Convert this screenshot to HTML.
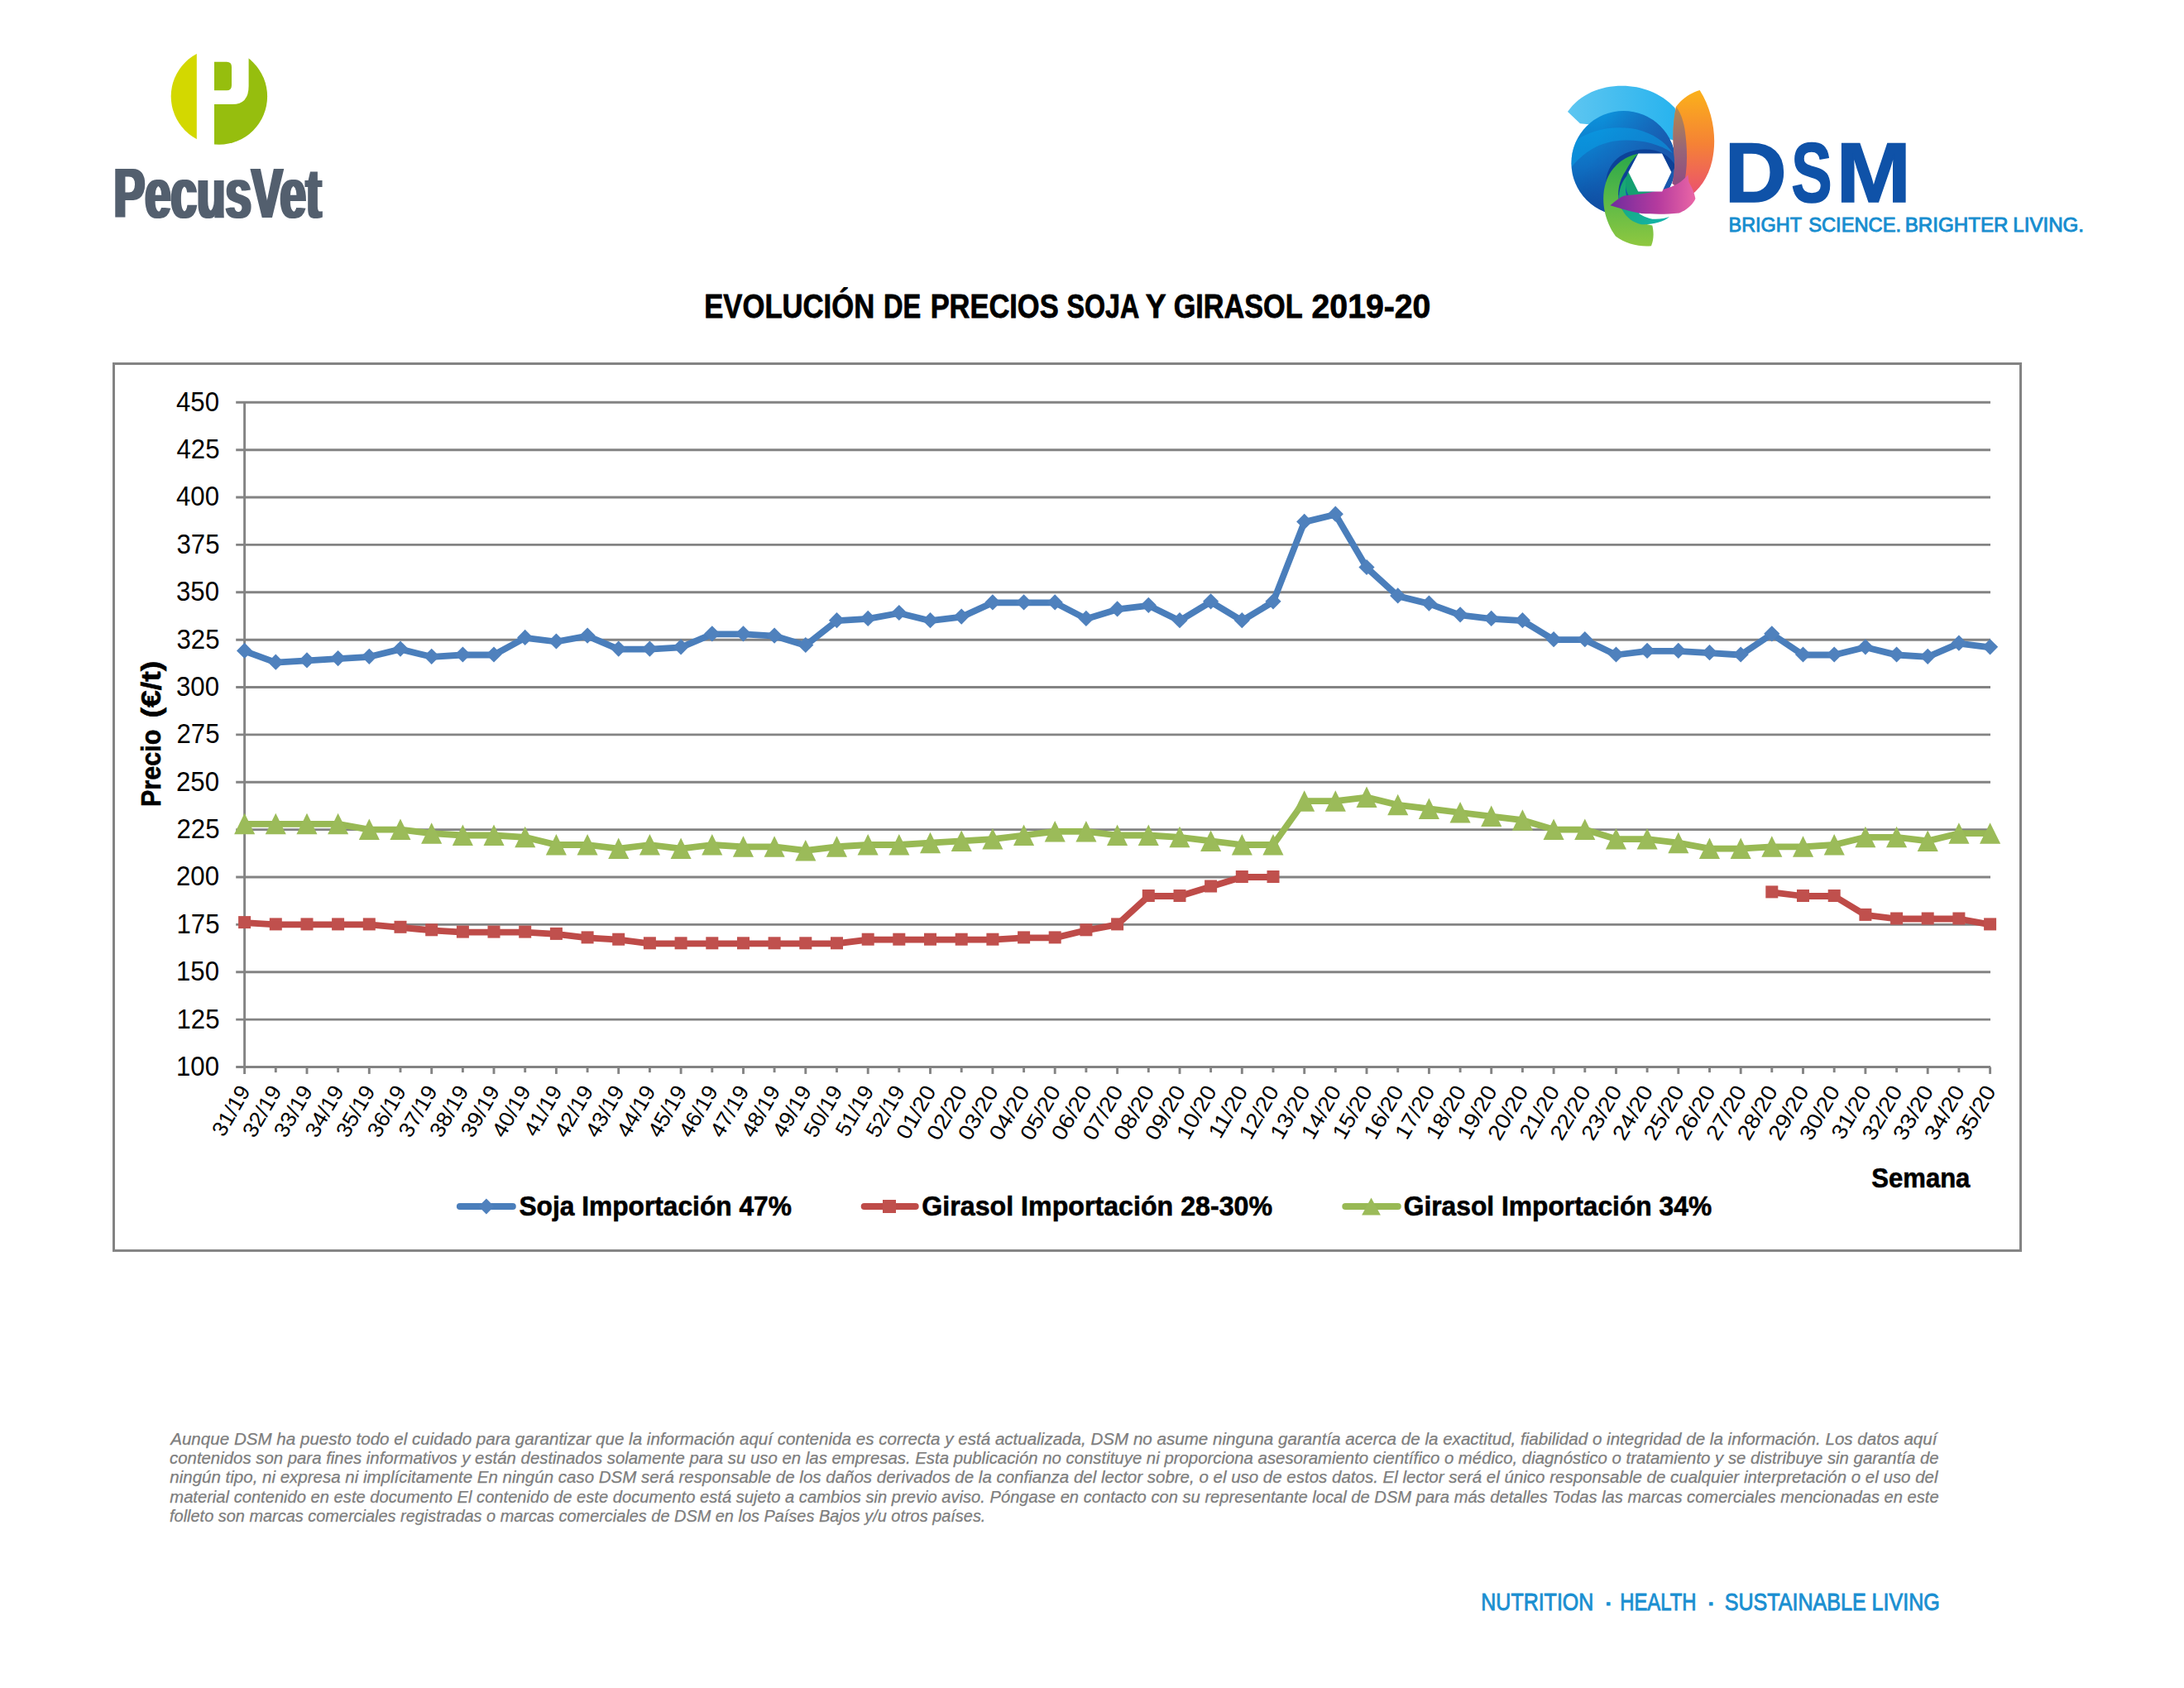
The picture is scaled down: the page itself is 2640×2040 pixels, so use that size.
<!DOCTYPE html>
<html lang="es"><head><meta charset="utf-8"><title>Evolución de precios soja y girasol 2019-20</title>
<style>
html,body{margin:0;padding:0;background:#fff;}
body{width:2640px;height:2040px;overflow:hidden;font-family:"Liberation Sans",sans-serif;}
svg{display:block;position:absolute;left:0;top:0;}
text{white-space:pre;}
</style></head><body>
<svg width="2640" height="2040" viewBox="0 0 2640 2040">
<rect width="2640" height="2040" fill="#fff"/>
<g id="pecus">
<defs><clipPath id="pc"><circle cx="264.9" cy="116.6" r="58.2"/></clipPath>
<filter id="bx" x="-5%" y="-5%" width="110%" height="110%"><feMorphology operator="dilate" radius="1.6 0"/></filter></defs>
<g clip-path="url(#pc)">
<rect x="200" y="50" width="37.8" height="140" fill="#d3d800"/>
<path d="M259,50 H330 V190 H259 V126 H281 Q300.6,126 300.6,104 V50 Z" fill="#96be0e"/>
<path d="M259,74.8 H274 Q280,74.8 280,81 V103 Q280,109.3 274,109.3 H259 Z" fill="#96be0e"/>
</g>
<text x="137.57" y="263.00" font-size="85.4" textLength="251.10" lengthAdjust="spacingAndGlyphs" font-weight="bold" fill="#525e6e" filter="url(#bx)" font-family="Liberation Sans, sans-serif">PecusVet</text>
</g>
<g id="dsm">
<defs>
<linearGradient id="gLB" x1="0" y1="0" x2="1" y2="0"><stop offset="0" stop-color="#5ec6f1"/><stop offset="1" stop-color="#27b3ee"/></linearGradient>
<linearGradient id="gDisc" x1="0.3" y1="0" x2="0.45" y2="1"><stop offset="0" stop-color="#0c93dc"/><stop offset="0.5" stop-color="#0f6fc2"/><stop offset="1" stop-color="#0b3f94"/></linearGradient>
<linearGradient id="gDiscR" x1="0.35" y1="0" x2="1" y2="0.25"><stop offset="0" stop-color="#1a58ad" stop-opacity="0"/><stop offset="1" stop-color="#1a58ad" stop-opacity="0.95"/></linearGradient>
<clipPath id="cDisc"><circle cx="82.50" cy="107.13" r="63.08"/></clipPath>
<linearGradient id="gOr" x1="0" y1="0" x2="0" y2="1"><stop offset="0" stop-color="#fbb11a"/><stop offset="0.5" stop-color="#f58235"/><stop offset="1" stop-color="#ea4f72"/></linearGradient>
<linearGradient id="gGr" x1="0" y1="0" x2="0" y2="1"><stop offset="0" stop-color="#2aa84a"/><stop offset="0.5" stop-color="#5bb947"/><stop offset="1" stop-color="#8fc840"/></linearGradient>
<linearGradient id="gOv" x1="0" y1="0" x2="0" y2="1"><stop offset="0" stop-color="#8a7a6a"/><stop offset="0.5" stop-color="#5a55a0"/><stop offset="1" stop-color="#4a3f95"/></linearGradient>
<linearGradient id="gTe" x1="0" y1="0" x2="1" y2="1"><stop offset="0" stop-color="#1aa567"/><stop offset="1" stop-color="#12b5b0"/></linearGradient>
<linearGradient id="gMa" x1="0" y1="0" x2="1" y2="0"><stop offset="0" stop-color="#6f2c9e"/><stop offset="0.55" stop-color="#b43a9e"/><stop offset="1" stop-color="#ea66a6"/></linearGradient>
</defs>
<g transform="translate(1880,90)">
<path d="M14.99,44.96 C29.98,23.46 54.74,13.68 80.80,13.68 C104.26,13.68 127.72,22.16 144.66,40.40 C147.92,52.13 148.57,65.16 147.27,80.80 L91.23,65.16 L29.98,59.30 Z" fill="url(#gLB)" />
<circle cx="82.50" cy="107.13" r="63.08" fill="url(#gDisc)"/>
<g clip-path="url(#cDisc)">
<circle cx="82.50" cy="107.13" r="63.08" fill="url(#gDiscR)"/>
<path d="M19.55,83.41 C43.01,65.16 72.98,61.25 99.05,66.47 C117.29,71.03 132.93,80.80 142.06,95.14 C125.11,83.41 104.26,78.85 83.41,79.50 C58.65,80.15 37.79,89.93 19.55,112.08 Z" fill="#0a9ee6" opacity="0.55"/>
<path d="M61.25,130.33 C62.56,106.87 80.80,91.23 106.87,90.58 C123.81,89.93 138.15,97.09 145.97,111.43 L140.10,117.95 L129.02,95.79 L100.35,95.79 L88.62,117.95 L78.20,147.27 Z" fill="#0a3c92" opacity="0.85"/>
</g>
<path d="M174.64,18.90 C162.91,22.16 152.48,29.98 145.97,39.10 C142.71,54.74 141.40,72.98 143.10,91.23 C144.66,104.26 144.66,117.29 141.40,131.63 L160.30,148.57 C173.34,140.75 185.06,125.11 189.63,104.26 C195.49,78.20 191.58,45.61 174.64,18.90 Z" fill="url(#gOr)" />
<path d="M145.97,39.10 C142.71,54.74 141.40,72.98 143.10,91.23 C144.66,104.26 144.66,117.29 141.40,131.63 L153.79,140.10 C160.30,117.29 160.30,91.23 156.39,65.16 C154.44,54.74 151.18,45.61 145.97,39.10 Z" fill="url(#gOv)" opacity="0.6"/>
<path d="M100.35,95.79 C83.41,99.05 67.77,110.78 61.25,130.33 C54.74,149.88 58.65,175.94 72.98,195.49 C84.71,204.61 101.66,208.52 115.99,207.22 C119.25,199.40 119.25,190.28 117.29,182.46 C101.66,179.85 88.62,173.34 80.80,162.91 C72.98,149.88 75.59,130.33 84.71,117.29 C88.62,109.47 93.84,101.66 100.35,95.79 Z" fill="url(#gGr)" />
<path d="M91.23,117.95 C83.41,130.33 83.41,143.36 88.62,153.79 C93.84,164.21 104.26,172.03 117.29,174.64 C125.11,175.29 132.93,173.99 138.15,172.03 C130.33,178.55 117.29,181.81 104.26,181.15 C91.23,178.55 82.11,169.43 78.20,156.39 C74.94,142.06 79.50,127.72 91.23,117.95 Z" fill="url(#gTe)" />
<path d="M88.62,117.29 L100.35,141.40 L129.02,141.40 L130.33,145.97 L91.23,149.88 C83.41,140.75 83.41,127.72 88.62,117.29 Z" fill="#14a070" />
<path d="M66.47,158.35 C72.98,152.48 78.20,148.57 83.41,146.62 C104.26,144.66 123.81,142.06 140.75,135.54 C149.88,131.63 156.39,126.42 160.30,121.20 L161.61,130.33 C165.52,136.84 168.12,143.36 169.43,149.88 C166.82,156.39 160.30,162.91 149.88,167.47 C132.93,169.43 117.29,168.77 104.26,168.12 C91.23,165.52 78.20,162.26 66.47,158.35 Z" fill="url(#gMa)" />
<path d="M100.61,96.18 L128.76,96.18 L139.71,117.95 L128.76,141.01 L100.61,141.01 L89.14,117.95 Z" fill="#fff" stroke="#fff" stroke-width="1.2" stroke-linejoin="round"/>
</g>
</g>
<g font-family="Liberation Sans, sans-serif">
<text y="244.00" font-size="102.6" font-weight="bold" fill="#0f52a8" stroke="#0f52a8" stroke-width="1.6"><tspan x="2084.71" textLength="74.99" lengthAdjust="spacingAndGlyphs">D</tspan><tspan x="2165.34" textLength="49.30" lengthAdjust="spacingAndGlyphs">S</tspan><tspan x="2219.61" textLength="90.52" lengthAdjust="spacingAndGlyphs">M</tspan></text>
<text y="279.70" font-size="24" fill="#168dcf" stroke="#168dcf" stroke-width="0.9"><tspan x="2089.53" textLength="88.12" lengthAdjust="spacingAndGlyphs">BRIGHT</tspan> <tspan x="2186.21" textLength="111.88" lengthAdjust="spacingAndGlyphs">SCIENCE.</tspan> <tspan x="2302.66" textLength="124.82" lengthAdjust="spacingAndGlyphs">BRIGHTER</tspan> <tspan x="2433.37" textLength="85.66" lengthAdjust="spacingAndGlyphs">LIVING.</tspan></text>
</g>
<g id="title" font-family="Liberation Sans, sans-serif" stroke="#000" stroke-width="0.8">
<text y="384.30" font-size="41.1" font-weight="bold" ><tspan x="851.23" textLength="205.95" lengthAdjust="spacingAndGlyphs">EVOLUCIÓN</tspan> <tspan x="1067.97" textLength="45.19" lengthAdjust="spacingAndGlyphs">DE</tspan> <tspan x="1124.65" textLength="154.96" lengthAdjust="spacingAndGlyphs">PRECIOS</tspan> <tspan x="1289.50" textLength="86.50" lengthAdjust="spacingAndGlyphs">SOJA</tspan> <tspan x="1384.83" textLength="24.15" lengthAdjust="spacingAndGlyphs">Y</tspan> <tspan x="1418.74" textLength="155.25" lengthAdjust="spacingAndGlyphs">GIRASOL</tspan> <tspan x="1585.58" textLength="143.81" lengthAdjust="spacingAndGlyphs">2019-20</tspan></text>
</g>
<g id="chart" font-family="Liberation Sans, sans-serif">
<rect x="137.5" y="439.5" width="2305" height="1071.9" fill="#fff" stroke="#838383" stroke-width="3"/>
<g stroke="#838383" stroke-width="2.9">
<line x1="285.2" y1="486.3" x2="2406" y2="486.3"/>
<line x1="285.2" y1="543.7" x2="2406" y2="543.7"/>
<line x1="285.2" y1="601.0" x2="2406" y2="601.0"/>
<line x1="285.2" y1="658.4" x2="2406" y2="658.4"/>
<line x1="285.2" y1="715.8" x2="2406" y2="715.8"/>
<line x1="285.2" y1="773.2" x2="2406" y2="773.2"/>
<line x1="285.2" y1="830.5" x2="2406" y2="830.5"/>
<line x1="285.2" y1="887.9" x2="2406" y2="887.9"/>
<line x1="285.2" y1="945.3" x2="2406" y2="945.3"/>
<line x1="285.2" y1="1002.6" x2="2406" y2="1002.6"/>
<line x1="285.2" y1="1060.0" x2="2406" y2="1060.0"/>
<line x1="285.2" y1="1117.4" x2="2406" y2="1117.4"/>
<line x1="285.2" y1="1174.8" x2="2406" y2="1174.8"/>
<line x1="285.2" y1="1232.1" x2="2406" y2="1232.1"/>
<line x1="285.2" y1="1289.5" x2="2406" y2="1289.5"/>
<line x1="295.6" y1="484.9" x2="295.6" y2="1298.0"/>
<line x1="333.3" y1="1289.5" x2="333.3" y2="1296.1"/>
<line x1="371.0" y1="1289.5" x2="371.0" y2="1297.9"/>
<line x1="408.6" y1="1289.5" x2="408.6" y2="1296.1"/>
<line x1="446.3" y1="1289.5" x2="446.3" y2="1297.9"/>
<line x1="484.0" y1="1289.5" x2="484.0" y2="1296.1"/>
<line x1="521.7" y1="1289.5" x2="521.7" y2="1297.9"/>
<line x1="559.4" y1="1289.5" x2="559.4" y2="1296.1"/>
<line x1="597.0" y1="1289.5" x2="597.0" y2="1297.9"/>
<line x1="634.7" y1="1289.5" x2="634.7" y2="1296.1"/>
<line x1="672.4" y1="1289.5" x2="672.4" y2="1297.9"/>
<line x1="710.1" y1="1289.5" x2="710.1" y2="1296.1"/>
<line x1="747.7" y1="1289.5" x2="747.7" y2="1297.9"/>
<line x1="785.4" y1="1289.5" x2="785.4" y2="1296.1"/>
<line x1="823.1" y1="1289.5" x2="823.1" y2="1297.9"/>
<line x1="860.8" y1="1289.5" x2="860.8" y2="1296.1"/>
<line x1="898.5" y1="1289.5" x2="898.5" y2="1297.9"/>
<line x1="936.1" y1="1289.5" x2="936.1" y2="1296.1"/>
<line x1="973.8" y1="1289.5" x2="973.8" y2="1297.9"/>
<line x1="1011.5" y1="1289.5" x2="1011.5" y2="1296.1"/>
<line x1="1049.2" y1="1289.5" x2="1049.2" y2="1297.9"/>
<line x1="1086.8" y1="1289.5" x2="1086.8" y2="1296.1"/>
<line x1="1124.5" y1="1289.5" x2="1124.5" y2="1297.9"/>
<line x1="1162.2" y1="1289.5" x2="1162.2" y2="1296.1"/>
<line x1="1199.9" y1="1289.5" x2="1199.9" y2="1297.9"/>
<line x1="1237.6" y1="1289.5" x2="1237.6" y2="1296.1"/>
<line x1="1275.2" y1="1289.5" x2="1275.2" y2="1297.9"/>
<line x1="1312.9" y1="1289.5" x2="1312.9" y2="1296.1"/>
<line x1="1350.6" y1="1289.5" x2="1350.6" y2="1297.9"/>
<line x1="1388.3" y1="1289.5" x2="1388.3" y2="1296.1"/>
<line x1="1426.0" y1="1289.5" x2="1426.0" y2="1297.9"/>
<line x1="1463.6" y1="1289.5" x2="1463.6" y2="1296.1"/>
<line x1="1501.3" y1="1289.5" x2="1501.3" y2="1297.9"/>
<line x1="1539.0" y1="1289.5" x2="1539.0" y2="1296.1"/>
<line x1="1576.7" y1="1289.5" x2="1576.7" y2="1297.9"/>
<line x1="1614.3" y1="1289.5" x2="1614.3" y2="1296.1"/>
<line x1="1652.0" y1="1289.5" x2="1652.0" y2="1297.9"/>
<line x1="1689.7" y1="1289.5" x2="1689.7" y2="1296.1"/>
<line x1="1727.4" y1="1289.5" x2="1727.4" y2="1297.9"/>
<line x1="1765.1" y1="1289.5" x2="1765.1" y2="1296.1"/>
<line x1="1802.7" y1="1289.5" x2="1802.7" y2="1297.9"/>
<line x1="1840.4" y1="1289.5" x2="1840.4" y2="1296.1"/>
<line x1="1878.1" y1="1289.5" x2="1878.1" y2="1297.9"/>
<line x1="1915.8" y1="1289.5" x2="1915.8" y2="1296.1"/>
<line x1="1953.5" y1="1289.5" x2="1953.5" y2="1297.9"/>
<line x1="1991.1" y1="1289.5" x2="1991.1" y2="1296.1"/>
<line x1="2028.8" y1="1289.5" x2="2028.8" y2="1297.9"/>
<line x1="2066.5" y1="1289.5" x2="2066.5" y2="1296.1"/>
<line x1="2104.2" y1="1289.5" x2="2104.2" y2="1297.9"/>
<line x1="2141.8" y1="1289.5" x2="2141.8" y2="1296.1"/>
<line x1="2179.5" y1="1289.5" x2="2179.5" y2="1297.9"/>
<line x1="2217.2" y1="1289.5" x2="2217.2" y2="1296.1"/>
<line x1="2254.9" y1="1289.5" x2="2254.9" y2="1297.9"/>
<line x1="2292.6" y1="1289.5" x2="2292.6" y2="1296.1"/>
<line x1="2330.2" y1="1289.5" x2="2330.2" y2="1297.9"/>
<line x1="2367.9" y1="1289.5" x2="2367.9" y2="1296.1"/>
<line x1="2405.6" y1="1289.5" x2="2405.6" y2="1297.9"/>
</g>
<g font-size="32.5">
<text x="213.08" y="496.7" textLength="51.89" lengthAdjust="spacingAndGlyphs">450</text>
<text x="213.57" y="554.1" textLength="51.89" lengthAdjust="spacingAndGlyphs">425</text>
<text x="213.08" y="611.4" textLength="51.89" lengthAdjust="spacingAndGlyphs">400</text>
<text x="213.57" y="668.8" textLength="51.89" lengthAdjust="spacingAndGlyphs">375</text>
<text x="213.08" y="726.2" textLength="51.89" lengthAdjust="spacingAndGlyphs">350</text>
<text x="213.57" y="783.6" textLength="51.89" lengthAdjust="spacingAndGlyphs">325</text>
<text x="213.08" y="840.9" textLength="51.89" lengthAdjust="spacingAndGlyphs">300</text>
<text x="213.57" y="898.3" textLength="51.89" lengthAdjust="spacingAndGlyphs">275</text>
<text x="213.08" y="955.7" textLength="51.89" lengthAdjust="spacingAndGlyphs">250</text>
<text x="213.57" y="1013.0" textLength="51.89" lengthAdjust="spacingAndGlyphs">225</text>
<text x="213.08" y="1070.4" textLength="51.89" lengthAdjust="spacingAndGlyphs">200</text>
<text x="213.57" y="1127.8" textLength="51.89" lengthAdjust="spacingAndGlyphs">175</text>
<text x="213.08" y="1185.2" textLength="51.89" lengthAdjust="spacingAndGlyphs">150</text>
<text x="213.57" y="1242.5" textLength="51.89" lengthAdjust="spacingAndGlyphs">125</text>
<text x="213.08" y="1299.9" textLength="51.89" lengthAdjust="spacingAndGlyphs">100</text>
</g>
<g font-size="26" text-anchor="end">
<text transform="translate(303.4,1318.4) rotate(-60)" textLength="65.6" lengthAdjust="spacingAndGlyphs">31/19</text>
<text transform="translate(341.1,1318.4) rotate(-60)" textLength="67.0" lengthAdjust="spacingAndGlyphs">32/19</text>
<text transform="translate(378.8,1318.4) rotate(-60)" textLength="67.0" lengthAdjust="spacingAndGlyphs">33/19</text>
<text transform="translate(416.4,1318.4) rotate(-60)" textLength="67.0" lengthAdjust="spacingAndGlyphs">34/19</text>
<text transform="translate(454.1,1318.4) rotate(-60)" textLength="67.0" lengthAdjust="spacingAndGlyphs">35/19</text>
<text transform="translate(491.8,1318.4) rotate(-60)" textLength="67.0" lengthAdjust="spacingAndGlyphs">36/19</text>
<text transform="translate(529.5,1318.4) rotate(-60)" textLength="67.0" lengthAdjust="spacingAndGlyphs">37/19</text>
<text transform="translate(567.1,1318.4) rotate(-60)" textLength="67.0" lengthAdjust="spacingAndGlyphs">38/19</text>
<text transform="translate(604.8,1318.4) rotate(-60)" textLength="67.0" lengthAdjust="spacingAndGlyphs">39/19</text>
<text transform="translate(642.5,1318.4) rotate(-60)" textLength="67.0" lengthAdjust="spacingAndGlyphs">40/19</text>
<text transform="translate(680.2,1318.4) rotate(-60)" textLength="65.6" lengthAdjust="spacingAndGlyphs">41/19</text>
<text transform="translate(717.9,1318.4) rotate(-60)" textLength="67.0" lengthAdjust="spacingAndGlyphs">42/19</text>
<text transform="translate(755.5,1318.4) rotate(-60)" textLength="67.0" lengthAdjust="spacingAndGlyphs">43/19</text>
<text transform="translate(793.2,1318.4) rotate(-60)" textLength="67.0" lengthAdjust="spacingAndGlyphs">44/19</text>
<text transform="translate(830.9,1318.4) rotate(-60)" textLength="67.0" lengthAdjust="spacingAndGlyphs">45/19</text>
<text transform="translate(868.6,1318.4) rotate(-60)" textLength="67.0" lengthAdjust="spacingAndGlyphs">46/19</text>
<text transform="translate(906.3,1318.4) rotate(-60)" textLength="67.0" lengthAdjust="spacingAndGlyphs">47/19</text>
<text transform="translate(943.9,1318.4) rotate(-60)" textLength="67.0" lengthAdjust="spacingAndGlyphs">48/19</text>
<text transform="translate(981.6,1318.4) rotate(-60)" textLength="67.0" lengthAdjust="spacingAndGlyphs">49/19</text>
<text transform="translate(1019.3,1318.4) rotate(-60)" textLength="67.0" lengthAdjust="spacingAndGlyphs">50/19</text>
<text transform="translate(1057.0,1318.4) rotate(-60)" textLength="65.6" lengthAdjust="spacingAndGlyphs">51/19</text>
<text transform="translate(1094.6,1318.4) rotate(-60)" textLength="67.0" lengthAdjust="spacingAndGlyphs">52/19</text>
<text transform="translate(1132.3,1318.4) rotate(-60)" textLength="69.6" lengthAdjust="spacingAndGlyphs">01/20</text>
<text transform="translate(1170.0,1318.4) rotate(-60)" textLength="71.0" lengthAdjust="spacingAndGlyphs">02/20</text>
<text transform="translate(1207.7,1318.4) rotate(-60)" textLength="71.0" lengthAdjust="spacingAndGlyphs">03/20</text>
<text transform="translate(1245.4,1318.4) rotate(-60)" textLength="71.0" lengthAdjust="spacingAndGlyphs">04/20</text>
<text transform="translate(1283.0,1318.4) rotate(-60)" textLength="71.0" lengthAdjust="spacingAndGlyphs">05/20</text>
<text transform="translate(1320.7,1318.4) rotate(-60)" textLength="71.0" lengthAdjust="spacingAndGlyphs">06/20</text>
<text transform="translate(1358.4,1318.4) rotate(-60)" textLength="71.0" lengthAdjust="spacingAndGlyphs">07/20</text>
<text transform="translate(1396.1,1318.4) rotate(-60)" textLength="71.0" lengthAdjust="spacingAndGlyphs">08/20</text>
<text transform="translate(1433.8,1318.4) rotate(-60)" textLength="71.0" lengthAdjust="spacingAndGlyphs">09/20</text>
<text transform="translate(1471.4,1318.4) rotate(-60)" textLength="69.6" lengthAdjust="spacingAndGlyphs">10/20</text>
<text transform="translate(1509.1,1318.4) rotate(-60)" textLength="68.2" lengthAdjust="spacingAndGlyphs">11/20</text>
<text transform="translate(1546.8,1318.4) rotate(-60)" textLength="69.6" lengthAdjust="spacingAndGlyphs">12/20</text>
<text transform="translate(1584.5,1318.4) rotate(-60)" textLength="69.6" lengthAdjust="spacingAndGlyphs">13/20</text>
<text transform="translate(1622.1,1318.4) rotate(-60)" textLength="69.6" lengthAdjust="spacingAndGlyphs">14/20</text>
<text transform="translate(1659.8,1318.4) rotate(-60)" textLength="69.6" lengthAdjust="spacingAndGlyphs">15/20</text>
<text transform="translate(1697.5,1318.4) rotate(-60)" textLength="69.6" lengthAdjust="spacingAndGlyphs">16/20</text>
<text transform="translate(1735.2,1318.4) rotate(-60)" textLength="69.6" lengthAdjust="spacingAndGlyphs">17/20</text>
<text transform="translate(1772.9,1318.4) rotate(-60)" textLength="69.6" lengthAdjust="spacingAndGlyphs">18/20</text>
<text transform="translate(1810.5,1318.4) rotate(-60)" textLength="69.6" lengthAdjust="spacingAndGlyphs">19/20</text>
<text transform="translate(1848.2,1318.4) rotate(-60)" textLength="71.0" lengthAdjust="spacingAndGlyphs">20/20</text>
<text transform="translate(1885.9,1318.4) rotate(-60)" textLength="69.6" lengthAdjust="spacingAndGlyphs">21/20</text>
<text transform="translate(1923.6,1318.4) rotate(-60)" textLength="71.0" lengthAdjust="spacingAndGlyphs">22/20</text>
<text transform="translate(1961.3,1318.4) rotate(-60)" textLength="71.0" lengthAdjust="spacingAndGlyphs">23/20</text>
<text transform="translate(1998.9,1318.4) rotate(-60)" textLength="71.0" lengthAdjust="spacingAndGlyphs">24/20</text>
<text transform="translate(2036.6,1318.4) rotate(-60)" textLength="71.0" lengthAdjust="spacingAndGlyphs">25/20</text>
<text transform="translate(2074.3,1318.4) rotate(-60)" textLength="71.0" lengthAdjust="spacingAndGlyphs">26/20</text>
<text transform="translate(2112.0,1318.4) rotate(-60)" textLength="71.0" lengthAdjust="spacingAndGlyphs">27/20</text>
<text transform="translate(2149.7,1318.4) rotate(-60)" textLength="71.0" lengthAdjust="spacingAndGlyphs">28/20</text>
<text transform="translate(2187.3,1318.4) rotate(-60)" textLength="71.0" lengthAdjust="spacingAndGlyphs">29/20</text>
<text transform="translate(2225.0,1318.4) rotate(-60)" textLength="71.0" lengthAdjust="spacingAndGlyphs">30/20</text>
<text transform="translate(2262.7,1318.4) rotate(-60)" textLength="69.6" lengthAdjust="spacingAndGlyphs">31/20</text>
<text transform="translate(2300.4,1318.4) rotate(-60)" textLength="71.0" lengthAdjust="spacingAndGlyphs">32/20</text>
<text transform="translate(2338.0,1318.4) rotate(-60)" textLength="71.0" lengthAdjust="spacingAndGlyphs">33/20</text>
<text transform="translate(2375.7,1318.4) rotate(-60)" textLength="71.0" lengthAdjust="spacingAndGlyphs">34/20</text>
<text transform="translate(2413.4,1318.4) rotate(-60)" textLength="71.0" lengthAdjust="spacingAndGlyphs">35/20</text>
</g>
<polyline points="295.6,786.9 333.3,800.7 371.0,798.4 408.6,796.1 446.3,793.8 484.0,784.6 521.7,793.8 559.4,791.5 597.0,791.5 634.7,770.9 672.4,775.5 710.1,768.6 747.7,784.6 785.4,784.6 823.1,782.3 860.8,766.3 898.5,766.3 936.1,768.6 973.8,780.0 1011.5,750.2 1049.2,747.9 1086.8,741.0 1124.5,750.2 1162.2,745.6 1199.9,728.4 1237.6,728.4 1275.2,728.4 1312.9,747.9 1350.6,736.4 1388.3,731.8 1426.0,750.2 1463.6,727.3 1501.3,750.2 1539.0,727.3 1576.7,630.9 1614.3,621.7 1652.0,686.0 1689.7,720.4 1727.4,729.6 1765.1,743.3 1802.7,747.9 1840.4,750.2 1878.1,773.2 1915.8,773.2 1953.5,791.5 1991.1,786.9 2028.8,786.9 2066.5,789.2 2104.2,791.5 2141.8,766.3 2179.5,791.5 2217.2,791.5 2254.9,782.3 2292.6,791.5 2330.2,793.8 2367.9,777.7 2405.6,782.3" fill="none" stroke="#4a7ebb" stroke-width="7.8" stroke-linejoin="round" stroke-linecap="round"/>
<g fill="#4f81bd">
<path d="M295.6,776.8L305.2,786.4L295.6,796.0L286.0,786.4Z"/>
<path d="M333.3,790.6L342.9,800.2L333.3,809.8L323.7,800.2Z"/>
<path d="M371.0,788.3L380.6,797.9L371.0,807.5L361.4,797.9Z"/>
<path d="M408.6,786.0L418.2,795.6L408.6,805.2L399.0,795.6Z"/>
<path d="M446.3,783.7L455.9,793.3L446.3,802.9L436.7,793.3Z"/>
<path d="M484.0,774.5L493.6,784.1L484.0,793.7L474.4,784.1Z"/>
<path d="M521.7,783.7L531.3,793.3L521.7,802.9L512.1,793.3Z"/>
<path d="M559.4,781.4L569.0,791.0L559.4,800.6L549.8,791.0Z"/>
<path d="M597.0,781.4L606.6,791.0L597.0,800.6L587.4,791.0Z"/>
<path d="M634.7,760.8L644.3,770.4L634.7,780.0L625.1,770.4Z"/>
<path d="M672.4,765.4L682.0,775.0L672.4,784.6L662.8,775.0Z"/>
<path d="M710.1,758.5L719.7,768.1L710.1,777.7L700.5,768.1Z"/>
<path d="M747.7,774.5L757.3,784.1L747.7,793.7L738.1,784.1Z"/>
<path d="M785.4,774.5L795.0,784.1L785.4,793.7L775.8,784.1Z"/>
<path d="M823.1,772.2L832.7,781.8L823.1,791.4L813.5,781.8Z"/>
<path d="M860.8,756.2L870.4,765.8L860.8,775.4L851.2,765.8Z"/>
<path d="M898.5,756.2L908.1,765.8L898.5,775.4L888.9,765.8Z"/>
<path d="M936.1,758.5L945.7,768.1L936.1,777.7L926.5,768.1Z"/>
<path d="M973.8,769.9L983.4,779.5L973.8,789.1L964.2,779.5Z"/>
<path d="M1011.5,740.1L1021.1,749.7L1011.5,759.3L1001.9,749.7Z"/>
<path d="M1049.2,737.8L1058.8,747.4L1049.2,757.0L1039.6,747.4Z"/>
<path d="M1086.8,730.9L1096.4,740.5L1086.8,750.1L1077.2,740.5Z"/>
<path d="M1124.5,740.1L1134.1,749.7L1124.5,759.3L1114.9,749.7Z"/>
<path d="M1162.2,735.5L1171.8,745.1L1162.2,754.7L1152.6,745.1Z"/>
<path d="M1199.9,718.3L1209.5,727.9L1199.9,737.5L1190.3,727.9Z"/>
<path d="M1237.6,718.3L1247.2,727.9L1237.6,737.5L1228.0,727.9Z"/>
<path d="M1275.2,718.3L1284.8,727.9L1275.2,737.5L1265.6,727.9Z"/>
<path d="M1312.9,737.8L1322.5,747.4L1312.9,757.0L1303.3,747.4Z"/>
<path d="M1350.6,726.3L1360.2,735.9L1350.6,745.5L1341.0,735.9Z"/>
<path d="M1388.3,721.7L1397.9,731.3L1388.3,740.9L1378.7,731.3Z"/>
<path d="M1426.0,740.1L1435.6,749.7L1426.0,759.3L1416.4,749.7Z"/>
<path d="M1463.6,717.2L1473.2,726.8L1463.6,736.4L1454.0,726.8Z"/>
<path d="M1501.3,740.1L1510.9,749.7L1501.3,759.3L1491.7,749.7Z"/>
<path d="M1539.0,717.2L1548.6,726.8L1539.0,736.4L1529.4,726.8Z"/>
<path d="M1576.7,620.8L1586.3,630.4L1576.7,640.0L1567.1,630.4Z"/>
<path d="M1614.3,611.6L1623.9,621.2L1614.3,630.8L1604.8,621.2Z"/>
<path d="M1652.0,675.9L1661.6,685.5L1652.0,695.1L1642.4,685.5Z"/>
<path d="M1689.7,710.3L1699.3,719.9L1689.7,729.5L1680.1,719.9Z"/>
<path d="M1727.4,719.5L1737.0,729.1L1727.4,738.7L1717.8,729.1Z"/>
<path d="M1765.1,733.2L1774.7,742.8L1765.1,752.4L1755.5,742.8Z"/>
<path d="M1802.7,737.8L1812.3,747.4L1802.7,757.0L1793.1,747.4Z"/>
<path d="M1840.4,740.1L1850.0,749.7L1840.4,759.3L1830.8,749.7Z"/>
<path d="M1878.1,763.1L1887.7,772.7L1878.1,782.3L1868.5,772.7Z"/>
<path d="M1915.8,763.1L1925.4,772.7L1915.8,782.3L1906.2,772.7Z"/>
<path d="M1953.5,781.4L1963.1,791.0L1953.5,800.6L1943.9,791.0Z"/>
<path d="M1991.1,776.8L2000.7,786.4L1991.1,796.0L1981.5,786.4Z"/>
<path d="M2028.8,776.8L2038.4,786.4L2028.8,796.0L2019.2,786.4Z"/>
<path d="M2066.5,779.1L2076.1,788.7L2066.5,798.3L2056.9,788.7Z"/>
<path d="M2104.2,781.4L2113.8,791.0L2104.2,800.6L2094.6,791.0Z"/>
<path d="M2141.8,756.2L2151.4,765.8L2141.8,775.4L2132.2,765.8Z"/>
<path d="M2179.5,781.4L2189.1,791.0L2179.5,800.6L2169.9,791.0Z"/>
<path d="M2217.2,781.4L2226.8,791.0L2217.2,800.6L2207.6,791.0Z"/>
<path d="M2254.9,772.2L2264.5,781.8L2254.9,791.4L2245.3,781.8Z"/>
<path d="M2292.6,781.4L2302.2,791.0L2292.6,800.6L2283.0,791.0Z"/>
<path d="M2330.2,783.7L2339.8,793.3L2330.2,802.9L2320.6,793.3Z"/>
<path d="M2367.9,767.6L2377.5,777.2L2367.9,786.8L2358.3,777.2Z"/>
<path d="M2405.6,772.2L2415.2,781.8L2405.6,791.4L2396.0,781.8Z"/>
</g>
<polyline points="295.6,1115.1 333.3,1117.4 371.0,1117.4 408.6,1117.4 446.3,1117.4 484.0,1120.8 521.7,1124.3 559.4,1126.6 597.0,1126.6 634.7,1126.6 672.4,1128.9 710.1,1133.4 747.7,1135.7 785.4,1140.3 823.1,1140.3 860.8,1140.3 898.5,1140.3 936.1,1140.3 973.8,1140.3 1011.5,1140.3 1049.2,1135.7 1086.8,1135.7 1124.5,1135.7 1162.2,1135.7 1199.9,1135.7 1237.6,1133.4 1275.2,1133.4 1312.9,1124.3 1350.6,1117.4 1388.3,1083.0 1426.0,1083.0 1463.6,1071.5 1501.3,1060.0 1539.0,1060.0" fill="none" stroke="#be4b48" stroke-width="7.8" stroke-linejoin="round" stroke-linecap="round"/>
<polyline points="2141.8,1078.4 2179.5,1083.0 2217.2,1083.0 2254.9,1105.9 2292.6,1110.5 2330.2,1110.5 2367.9,1110.5 2405.6,1117.4" fill="none" stroke="#be4b48" stroke-width="7.8" stroke-linejoin="round" stroke-linecap="round"/>
<g fill="#c0504d">
<rect x="288.1" y="1107.1" width="15.0" height="15.0"/>
<rect x="325.8" y="1109.4" width="15.0" height="15.0"/>
<rect x="363.5" y="1109.4" width="15.0" height="15.0"/>
<rect x="401.1" y="1109.4" width="15.0" height="15.0"/>
<rect x="438.8" y="1109.4" width="15.0" height="15.0"/>
<rect x="476.5" y="1112.8" width="15.0" height="15.0"/>
<rect x="514.2" y="1116.3" width="15.0" height="15.0"/>
<rect x="551.9" y="1118.6" width="15.0" height="15.0"/>
<rect x="589.5" y="1118.6" width="15.0" height="15.0"/>
<rect x="627.2" y="1118.6" width="15.0" height="15.0"/>
<rect x="664.9" y="1120.9" width="15.0" height="15.0"/>
<rect x="702.6" y="1125.4" width="15.0" height="15.0"/>
<rect x="740.2" y="1127.7" width="15.0" height="15.0"/>
<rect x="777.9" y="1132.3" width="15.0" height="15.0"/>
<rect x="815.6" y="1132.3" width="15.0" height="15.0"/>
<rect x="853.3" y="1132.3" width="15.0" height="15.0"/>
<rect x="891.0" y="1132.3" width="15.0" height="15.0"/>
<rect x="928.6" y="1132.3" width="15.0" height="15.0"/>
<rect x="966.3" y="1132.3" width="15.0" height="15.0"/>
<rect x="1004.0" y="1132.3" width="15.0" height="15.0"/>
<rect x="1041.7" y="1127.7" width="15.0" height="15.0"/>
<rect x="1079.3" y="1127.7" width="15.0" height="15.0"/>
<rect x="1117.0" y="1127.7" width="15.0" height="15.0"/>
<rect x="1154.7" y="1127.7" width="15.0" height="15.0"/>
<rect x="1192.4" y="1127.7" width="15.0" height="15.0"/>
<rect x="1230.1" y="1125.4" width="15.0" height="15.0"/>
<rect x="1267.7" y="1125.4" width="15.0" height="15.0"/>
<rect x="1305.4" y="1116.3" width="15.0" height="15.0"/>
<rect x="1343.1" y="1109.4" width="15.0" height="15.0"/>
<rect x="1380.8" y="1075.0" width="15.0" height="15.0"/>
<rect x="1418.5" y="1075.0" width="15.0" height="15.0"/>
<rect x="1456.1" y="1063.5" width="15.0" height="15.0"/>
<rect x="1493.8" y="1052.0" width="15.0" height="15.0"/>
<rect x="1531.5" y="1052.0" width="15.0" height="15.0"/>
<rect x="2134.3" y="1070.4" width="15.0" height="15.0"/>
<rect x="2172.0" y="1075.0" width="15.0" height="15.0"/>
<rect x="2209.7" y="1075.0" width="15.0" height="15.0"/>
<rect x="2247.4" y="1097.9" width="15.0" height="15.0"/>
<rect x="2285.1" y="1102.5" width="15.0" height="15.0"/>
<rect x="2322.7" y="1102.5" width="15.0" height="15.0"/>
<rect x="2360.4" y="1102.5" width="15.0" height="15.0"/>
<rect x="2398.1" y="1109.4" width="15.0" height="15.0"/>
</g>
<polyline points="295.6,995.8 333.3,995.8 371.0,995.8 408.6,995.8 446.3,1002.6 484.0,1002.6 521.7,1007.2 559.4,1009.5 597.0,1009.5 634.7,1011.8 672.4,1021.0 710.1,1021.0 747.7,1025.6 785.4,1021.0 823.1,1025.6 860.8,1021.0 898.5,1023.3 936.1,1023.3 973.8,1027.9 1011.5,1023.3 1049.2,1021.0 1086.8,1021.0 1124.5,1018.7 1162.2,1016.4 1199.9,1014.1 1237.6,1009.5 1275.2,1004.9 1312.9,1004.9 1350.6,1009.5 1388.3,1009.5 1426.0,1011.8 1463.6,1016.4 1501.3,1021.0 1539.0,1021.0 1576.7,968.2 1614.3,968.2 1652.0,963.6 1689.7,972.8 1727.4,977.4 1765.1,982.0 1802.7,986.6 1840.4,991.2 1878.1,1002.6 1915.8,1002.6 1953.5,1014.1 1991.1,1014.1 2028.8,1018.7 2066.5,1025.6 2104.2,1025.6 2141.8,1023.3 2179.5,1023.3 2217.2,1021.0 2254.9,1011.8 2292.6,1011.8 2330.2,1016.4 2367.9,1007.2 2405.6,1007.2" fill="none" stroke="#98b954" stroke-width="7.8" stroke-linejoin="round" stroke-linecap="round"/>
<g fill="#9bbb59">
<path d="M295.6,982.8L308.2,1008.3L283.1,1008.3Z"/>
<path d="M333.3,982.8L345.8,1008.3L320.7,1008.3Z"/>
<path d="M371.0,982.8L383.5,1008.3L358.4,1008.3Z"/>
<path d="M408.6,982.8L421.2,1008.3L396.1,1008.3Z"/>
<path d="M446.3,989.6L458.9,1015.1L433.8,1015.1Z"/>
<path d="M484.0,989.6L496.5,1015.1L471.4,1015.1Z"/>
<path d="M521.7,994.2L534.2,1019.7L509.1,1019.7Z"/>
<path d="M559.4,996.5L571.9,1022.0L546.8,1022.0Z"/>
<path d="M597.0,996.5L609.6,1022.0L584.5,1022.0Z"/>
<path d="M634.7,998.8L647.3,1024.3L622.2,1024.3Z"/>
<path d="M672.4,1008.0L684.9,1033.5L659.8,1033.5Z"/>
<path d="M710.1,1008.0L722.6,1033.5L697.5,1033.5Z"/>
<path d="M747.7,1012.6L760.3,1038.1L735.2,1038.1Z"/>
<path d="M785.4,1008.0L798.0,1033.5L772.9,1033.5Z"/>
<path d="M823.1,1012.6L835.6,1038.1L810.6,1038.1Z"/>
<path d="M860.8,1008.0L873.3,1033.5L848.2,1033.5Z"/>
<path d="M898.5,1010.3L911.0,1035.8L885.9,1035.8Z"/>
<path d="M936.1,1010.3L948.7,1035.8L923.6,1035.8Z"/>
<path d="M973.8,1014.9L986.4,1040.4L961.3,1040.4Z"/>
<path d="M1011.5,1010.3L1024.0,1035.8L998.9,1035.8Z"/>
<path d="M1049.2,1008.0L1061.7,1033.5L1036.6,1033.5Z"/>
<path d="M1086.8,1008.0L1099.4,1033.5L1074.3,1033.5Z"/>
<path d="M1124.5,1005.7L1137.1,1031.2L1112.0,1031.2Z"/>
<path d="M1162.2,1003.4L1174.8,1028.9L1149.7,1028.9Z"/>
<path d="M1199.9,1001.1L1212.4,1026.6L1187.3,1026.6Z"/>
<path d="M1237.6,996.5L1250.1,1022.0L1225.0,1022.0Z"/>
<path d="M1275.2,991.9L1287.8,1017.4L1262.7,1017.4Z"/>
<path d="M1312.9,991.9L1325.5,1017.4L1300.4,1017.4Z"/>
<path d="M1350.6,996.5L1363.1,1022.0L1338.0,1022.0Z"/>
<path d="M1388.3,996.5L1400.8,1022.0L1375.7,1022.0Z"/>
<path d="M1426.0,998.8L1438.5,1024.3L1413.4,1024.3Z"/>
<path d="M1463.6,1003.4L1476.2,1028.9L1451.1,1028.9Z"/>
<path d="M1501.3,1008.0L1513.9,1033.5L1488.8,1033.5Z"/>
<path d="M1539.0,1008.0L1551.5,1033.5L1526.4,1033.5Z"/>
<path d="M1576.7,955.2L1589.2,980.7L1564.1,980.7Z"/>
<path d="M1614.3,955.2L1626.9,980.7L1601.8,980.7Z"/>
<path d="M1652.0,950.6L1664.6,976.1L1639.5,976.1Z"/>
<path d="M1689.7,959.8L1702.3,985.3L1677.2,985.3Z"/>
<path d="M1727.4,964.4L1739.9,989.9L1714.8,989.9Z"/>
<path d="M1765.1,969.0L1777.6,994.5L1752.5,994.5Z"/>
<path d="M1802.7,973.6L1815.3,999.1L1790.2,999.1Z"/>
<path d="M1840.4,978.2L1853.0,1003.7L1827.9,1003.7Z"/>
<path d="M1878.1,989.6L1890.6,1015.1L1865.5,1015.1Z"/>
<path d="M1915.8,989.6L1928.3,1015.1L1903.2,1015.1Z"/>
<path d="M1953.5,1001.1L1966.0,1026.6L1940.9,1026.6Z"/>
<path d="M1991.1,1001.1L2003.7,1026.6L1978.6,1026.6Z"/>
<path d="M2028.8,1005.7L2041.4,1031.2L2016.3,1031.2Z"/>
<path d="M2066.5,1012.6L2079.0,1038.1L2053.9,1038.1Z"/>
<path d="M2104.2,1012.6L2116.7,1038.1L2091.6,1038.1Z"/>
<path d="M2141.8,1010.3L2154.4,1035.8L2129.3,1035.8Z"/>
<path d="M2179.5,1010.3L2192.1,1035.8L2167.0,1035.8Z"/>
<path d="M2217.2,1008.0L2229.8,1033.5L2204.7,1033.5Z"/>
<path d="M2254.9,998.8L2267.4,1024.3L2242.3,1024.3Z"/>
<path d="M2292.6,998.8L2305.1,1024.3L2280.0,1024.3Z"/>
<path d="M2330.2,1003.4L2342.8,1028.9L2317.7,1028.9Z"/>
<path d="M2367.9,994.2L2380.5,1019.7L2355.4,1019.7Z"/>
<path d="M2405.6,994.2L2418.2,1019.7L2393.0,1019.7Z"/>
</g>
<g transform="translate(194,973.4) rotate(-90)"><text y="0.00" font-size="33.7" font-weight="bold" stroke="#000" stroke-width="0.6"><tspan x="-1.61" textLength="93.41" lengthAdjust="spacingAndGlyphs">Precio</tspan> <tspan x="105.94" textLength="68.71" lengthAdjust="spacingAndGlyphs">(€/t)</tspan></text></g>
<text x="2262.31" y="1434.60" font-size="33.7" textLength="119.09" lengthAdjust="spacingAndGlyphs" font-weight="bold" stroke="#000" stroke-width="0.6">Semana</text>
<line x1="555.9" y1="1458" x2="619.8" y2="1458" stroke="#4a7ebb" stroke-width="8" stroke-linecap="round"/>
<g fill="#4f81bd"><path d="M587.9,1448.6L597.2,1458.0L587.9,1467.4L578.5,1458.0Z"/></g>
<text x="627.40" y="1468.80" font-size="33.7" textLength="329.54" lengthAdjust="spacingAndGlyphs" font-weight="bold" stroke="#000" stroke-width="0.6">Soja Importación 47%</text>
<line x1="1044.7" y1="1458" x2="1106.7" y2="1458" stroke="#be4b48" stroke-width="8" stroke-linecap="round"/>
<g fill="#c0504d"><rect x="1067.0" y="1450.0" width="16" height="16"/></g>
<text x="1114.29" y="1468.80" font-size="33.7" textLength="423.86" lengthAdjust="spacingAndGlyphs" font-weight="bold" stroke="#000" stroke-width="0.6">Girasol Importación 28-30%</text>
<line x1="1626.3" y1="1458" x2="1689.8" y2="1458" stroke="#98b954" stroke-width="8" stroke-linecap="round"/>
<g fill="#9bbb59"><path d="M1657.5,1447.5L1668.9,1468.5L1646.1,1468.5Z"/></g>
<text x="1696.71" y="1468.80" font-size="33.7" textLength="372.44" lengthAdjust="spacingAndGlyphs" font-weight="bold" stroke="#000" stroke-width="0.6">Girasol Importación 34%</text>
</g>
<g id="disclaimer" font-family="Liberation Sans, sans-serif" font-style="italic" font-size="19.6" fill="#7d7d7d" stroke="#7d7d7d" stroke-width="0.25">
<text x="206.19" y="1745.9" textLength="2135.3" lengthAdjust="spacingAndGlyphs">Aunque DSM ha puesto todo el cuidado para garantizar que la información aquí contenida es correcta y está actualizada, DSM no asume ninguna garantía acerca de la exactitud, fiabilidad o integridad de la información. Los datos aquí</text>
<text x="205.06" y="1769.1" textLength="2138.6" lengthAdjust="spacingAndGlyphs">contenidos son para fines informativos y están destinados solamente para su uso en las empresas. Esta publicación no constituye ni proporciona asesoramiento científico o médico, diagnóstico o tratamiento y se distribuye sin garantía de</text>
<text x="205.38" y="1792.3" textLength="2137.2" lengthAdjust="spacingAndGlyphs">ningún tipo, ni expresa ni implícitamente En ningún caso DSM será responsable de los daños derivados de la confianza del lector sobre, o el uso de estos datos. El lector será el único responsable de cualquier interpretación o el uso del</text>
<text x="205.39" y="1815.5" textLength="2138.3" lengthAdjust="spacingAndGlyphs">material contenido en este documento El contenido de este documento está sujeto a cambios sin previo aviso. Póngase en contacto con su representante local de DSM para más detalles Todas las marcas comerciales mencionadas en este</text>
<text x="205.08" y="1838.7" textLength="986.3" lengthAdjust="spacingAndGlyphs">folleto son marcas comerciales registradas o marcas comerciales de DSM en los Países Bajos y/u otros países.</text>
</g>
<g id="footer" font-family="Liberation Sans, sans-serif" fill="#1a8fd1" stroke="#1a8fd1" stroke-width="0.9">
<text y="1946.30" font-size="29.4" ><tspan x="1790.30" textLength="135.99" lengthAdjust="spacingAndGlyphs">NUTRITION</tspan> <tspan x="1938.15" textLength="11.87" lengthAdjust="spacingAndGlyphs">·</tspan> <tspan x="1958.19" textLength="92.31" lengthAdjust="spacingAndGlyphs">HEALTH</tspan> <tspan x="2062.15" textLength="11.87" lengthAdjust="spacingAndGlyphs">·</tspan> <tspan x="2084.67" textLength="260.16" lengthAdjust="spacingAndGlyphs">SUSTAINABLE LIVING</tspan></text>
</g>
</svg>
</body></html>
